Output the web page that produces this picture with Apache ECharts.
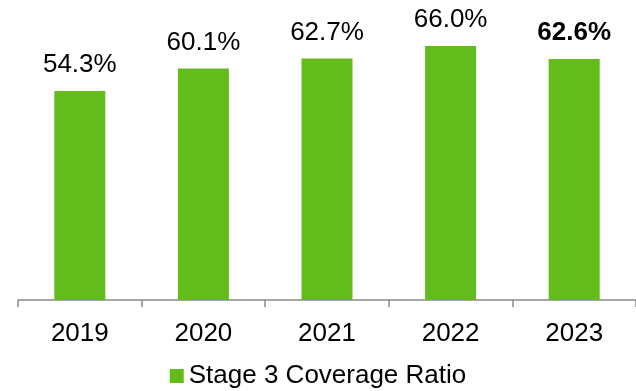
<!DOCTYPE html>
<html>
<head>
<meta charset="utf-8">
<script src="https://cdn.jsdelivr.net/npm/echarts@6/dist/echarts.min.js"></script>
<style>
html,body{margin:0;padding:0;background:#fff;}
#chart{width:636px;height:391px;}
</style>
</head>
<body>
<div id="chart"></div>
<script>
var categories = ['2019', '2020', '2021', '2022', '2023'];
var coverageRatio = [54.3, 60.1, 62.7, 66.0, 62.6];
var seriesName = 'Stage 3 Coverage Ratio';
var boldIndex = 4;

var FONT = '"Liberation Sans", Arial, sans-serif';
var GREEN = '#64BC1C';

var chart = echarts.init(document.getElementById('chart'), null, {renderer: 'canvas'});
chart.setOption({
  animation: false,
  grid: {left: 18, top: 30.5, width: 631.5, height: 269.5},
  legend: {
    top: 358,
    left: 'center',
    padding: 5,
    itemWidth: 14,
    itemHeight: 14,
    icon: 'rect',
    textStyle: {fontFamily: FONT, fontSize: 26, color: '#000'},
    data: [seriesName]
  },
  xAxis: {
    type: 'category',
    data: categories,
    axisLine: {lineStyle: {color: '#898989', width: 1.5}},
    axisTick: {show: true, alignWithLabel: false, length: 7, lineStyle: {color: '#898989', width: 1.5}},
    axisLabel: {fontFamily: FONT, fontSize: 26, color: '#000', margin: 21}
  },
  yAxis: {
    type: 'value',
    min: 0,
    max: 70,
    show: false,
    splitLine: {show: false}
  },
  series: [{
    name: seriesName,
    type: 'bar',
    barWidth: 51,
    itemStyle: {color: GREEN},
    label: {
      show: true,
      position: 'top',
      distance: 13,
      fontFamily: FONT,
      fontSize: 26,
      color: '#000',
      formatter: function (p) { return p.value.toFixed(1) + '%'; }
    },
    data: coverageRatio.map(function (v, i) {
      return i === boldIndex ? {value: v, label: {fontWeight: 'bold'}} : v;
    })
  }]
});
</script>
</body>
</html>
